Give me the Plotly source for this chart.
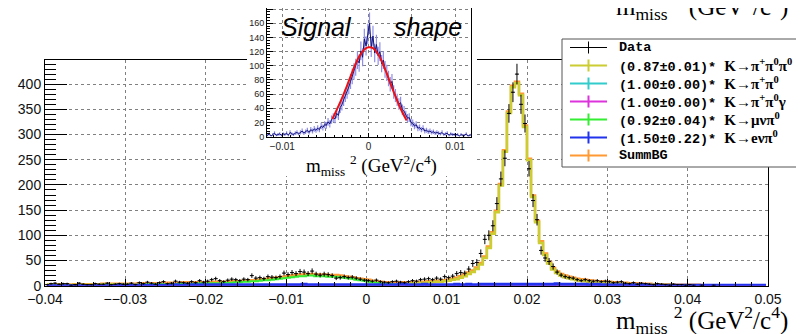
import math
import plotly.graph_objects as go

W, H = 804, 334          # window size
OFF = 8                  # page body margin in the browser
FW, FH = W - OFF, H - OFF

# ---------------- main histogram (bins of 0.0005 from -0.04 to 0.05) ----------------
X_MIN, BIN_W, N_BINS = -0.04, 0.0005, 180
BIN_CENTERS = [X_MIN + BIN_W * (i + 0.5) for i in range(N_BINS)]

SUMM_BG = [
    3, 3, 3, 3, 3, 3, 2, 3, 3, 3,
    3, 3, 3, 3, 4, 4, 4, 4, 4, 4,
    4, 4, 4, 5, 5, 5, 5, 5, 5, 6,
    6, 6, 6, 6, 7, 7, 7, 7, 7, 7,
    7, 7, 8, 8, 8, 8, 9, 9, 9, 10,
    10, 11, 11, 12, 13, 14, 15, 16, 17, 18,
    19, 20, 21, 22, 22, 23, 23, 22, 22, 22,
    21, 21, 21, 20, 19, 18, 17, 15, 14, 13,
    12, 10, 9, 8, 7, 7, 7, 7, 7, 7,
    7, 7, 8, 8, 8, 9, 9, 10, 10, 11,
    12, 14, 16, 19, 22, 26, 30, 36, 45, 58,
    78, 106, 149, 202, 269, 346, 397, 405, 381, 318,
    252, 179, 129, 88, 64, 47, 35, 28, 23, 20,
    18, 16, 14, 13, 12, 11, 10, 9, 9, 8,
    8, 7, 7, 6, 6, 5, 5, 5, 4, 4,
    4, 3, 3, 3, 3, 3, 2, 2, 2, 2,
    2, 2, 2, 1, 1, 1, 1, 1, 1, 1,
    1, 1, 1, 1, 1, 1, 1, 1, 1, 1,
]

K_PIPI0PI0 = [
    3, 3, 2, 2, 2, 2, 1, 2, 2, 2,
    2, 2, 2, 2, 3, 2, 2, 2, 2, 2,
    2, 1, 1, 2, 2, 2, 2, 2, 2, 2,
    2, 2, 1, 1, 2, 2, 2, 2, 1, 1,
    0, 0, 1, 1, 0, 0, 1, 0, 0, 0,
    0, 0, 0, 0, 0, 1, 1, 1, 1, 1,
    1, 1, 1, 1, 0, 1, 1, 1, 1, 1,
    1, 1, 1, 1, 1, 1, 1, 1, 1, 1,
    2, 1, 1, 1, 1, 1, 2, 3, 2, 3,
    4, 5, 6, 6, 5, 7, 7, 8, 8, 9,
    10, 12, 13, 16, 19, 23, 27, 33, 42, 55,
    75, 103, 146, 199, 266, 343, 394, 402, 378, 315,
    249, 176, 126, 85, 61, 44, 32, 25, 20, 17,
    15, 13, 11, 10, 9, 8, 7, 7, 7, 6,
    6, 5, 5, 4, 4, 3, 3, 3, 2, 2,
    2, 2, 2, 2, 2, 2, 1, 1, 1, 1,
    1, 1, 1, 1, 0, 0, 0, 0, 0, 0,
    0, 0, 0, 0, 0, 0, 0, 0, 0, 0,
]

K_MUNUPI0 = [
    0, 0, 1, 1, 1, 1, 1, 1, 1, 1,
    1, 1, 1, 1, 1, 2, 2, 2, 2, 2,
    2, 2, 2, 2, 2, 3, 3, 3, 3, 3,
    3, 3, 3, 4, 4, 4, 4, 4, 5, 5,
    5, 5, 5, 5, 6, 6, 6, 7, 7, 8,
    8, 9, 9, 10, 11, 11, 12, 13, 14, 15,
    16, 17, 18, 19, 19, 20, 20, 19, 19, 19,
    18, 18, 18, 17, 16, 15, 14, 12, 11, 10,
    8, 7, 6, 5, 4, 4, 3, 2, 2, 1,
    1, 0, 0, 0, 0, 0, 0, 0, 0, 0,
] + [0] * 80

K_ENUPI0 = [
    0, 0, 0, 0, 0, 0, 0, 0, 0, 0,
    0, 0, 0, 0, 0, 0, 0, 0, 1, 0,
    0, 1, 1, 1, 1, 1, 1, 1, 1, 1,
    1, 1, 2, 1, 1, 2, 2, 2, 2, 2,
    2, 2, 2, 2, 2, 2, 2, 2, 2, 2,
    2, 2, 2, 2, 2, 2, 2, 2, 2, 2,
    2, 2, 2, 2, 3, 2, 2, 2, 2, 2,
    2, 2, 2, 2, 2, 2, 2, 2, 2, 2,
    2, 2, 2, 2, 2, 2, 2, 2, 3, 3,
    2, 2, 2, 2, 3, 2, 2, 2, 2, 2,
    2, 2, 3, 2, 2, 3, 2, 2, 3, 3,
    3, 3, 3, 3, 3, 3, 3, 3, 3, 3,
    3, 3, 3, 3, 3, 3, 3, 4, 3, 3,
    3, 3, 3, 3, 3, 2, 3, 3, 2, 2,
    2, 2, 2, 2, 2, 2, 2, 1, 2, 2,
] + [1] * 30

K_PIPI0 = [0] * 95 + [1, 0, 1, 1, 0, 1, 0, 1, 0, 0] + [0] * 75
K_PIPI0G = [0] * 62 + [1, 0, 0, 1, 0, 0, 1, 0, 0, 0, 1, 0] + [0] * 106

DATA = [
    2, 4, 5, 3, 4, 4, 1, 2, 5, 3,
    2, 2, 4, 3, 3, 5, 2, 3, 4, 3,
    3, 5, 2, 6, 4, 7, 5, 3, 6, 8,
    4, 5, 9, 7, 6, 5, 8, 6, 10, 7,
    9, 12, 14, 10, 8, 11, 13, 12, 10, 13,
    12, 20, 15, 16, 14, 18, 17, 16, 18, 25,
    22, 26, 24, 28, 27, 24, 29, 23, 21, 23,
    22, 20, 15, 16, 18, 16, 17, 15, 13, 11,
    10, 9, 11, 8, 7, 6, 8, 9, 7, 6,
    8, 10, 9, 12, 13, 14, 12, 15, 13, 18,
    16, 19, 24, 26, 25, 33, 44, 46, 64, 92,
    100, 119, 163, 212, 253, 342, 384, 420, 360, 322,
    232, 169, 131, 70, 55, 48, 38, 27, 21, 18,
    16, 15, 12, 10, 12, 10, 9, 10, 8, 9,
    8, 6, 7, 8, 5, 4, 6, 3, 5, 4,
    3, 2, 4, 3, 2, 1, 3, 2, 2, 1,
    2, 1, 0, 1, 0, 0, 1, 0, 0, 0,
    0, 0, 0, 0, 0, 0, 0, 0, 0, 0,
]

X_TICKS = [-0.04, -0.03, -0.02, -0.01, 0, 0.01, 0.02, 0.03, 0.04, 0.05]
X_TICK_LABELS = ["\u22120.04", "\u2212\u22120.03", "\u22120.02", "\u22120.01", "0",
                 "0.01", "0.02", "0.03", "0.04", "0.05"]

# ---------------- inset: signal shape (bins of 0.0002 from -0.012 to 0.012) ----------------
IN_MIN, IN_BIN, IN_N = -0.012, 0.0002, 120
INSET_CENTERS = [IN_MIN + IN_BIN * (i + 0.5) for i in range(IN_N)]
INSET_VALUES = [
    3, 2, 4, 1, 3, 5, 2, 3, 4, 2,
    4, 3, 5, 2, 6, 4, 3, 5, 6, 4,
    6, 8, 5, 7, 9, 6, 10, 8, 11, 9,
    12, 10, 15, 13, 17, 16, 21, 18, 24, 27,
    25, 33, 30, 41, 45, 52, 58, 63, 70, 78,
    85, 92, 98, 108, 104, 121, 112, 138, 128, 145,
    160, 126, 142, 118, 130, 114, 120, 103, 108, 95,
    90, 82, 74, 78, 63, 58, 52, 46, 48, 38,
    36, 30, 26, 27, 20, 19, 15, 17, 12, 13,
    10, 12, 8, 9, 7, 8, 6, 7, 5, 6,
    5, 4, 6, 3, 4, 5, 2, 4, 3, 3,
    2, 3, 1, 3, 2, 2, 4, 1, 2, 3,
]
FIT_X = [-0.0042, -0.004, -0.0035, -0.003, -0.0025, -0.002, -0.0015, -0.001, -0.0005, 0.0,
         0.0005, 0.001, 0.0015, 0.002, 0.0025, 0.003, 0.0035, 0.004, 0.0044]
FIT_Y = [25, 30, 43, 57, 72, 88, 103, 115, 123, 126,
         125, 118, 107, 92, 76, 60, 45, 32, 23]

INSET_X_TICKS = [-0.01, -0.005, 0, 0.005, 0.01]
INSET_X_LABELS = ["\u22120.01", "", "0", "", "0.01"]

# ---------------- legend ----------------
LEGEND_FACTORS = ["", "(0.87\u00b10.01)* ", "(1.00\u00b10.00)* ", "(1.00\u00b10.00)* ",
                  "(0.92\u00b10.04)* ", "(1.50\u00b10.22)* ", ""]
LEGEND_NAMES = [
    "Data",
    "K\u2192\u03c0<sup>+</sup>\u03c0<sup>0</sup>\u03c0<sup>0</sup>",
    "K\u2192\u03c0<sup>+</sup>\u03c0<sup>0</sup>",
    "K\u2192\u03c0<sup>+</sup>\u03c0<sup>0</sup>\u03b3",
    "K\u2192\u03bc\u03bd\u03c0<sup>0</sup>",
    "K\u2192e\u03bd\u03c0<sup>0</sup>",
    "SummBG",
]
C_DATA, C_YEL, C_CYAN, C_MAG, C_GRN, C_BLUE, C_ORG = (
    "#000000", "#cccc33", "#33cccc", "#dd33dd", "#33ee33", "#2233ee", "#ff9933")
LEGEND_COLORS = [C_DATA, C_YEL, C_CYAN, C_MAG, C_GRN, C_BLUE, C_ORG]

TITLE = "m<sub>miss</sub> <sup>2</sup> (GeV<sup>2</sup>/c<sup>4</sup>)"


def px(x):
    return (x - OFF) / FW


def py(y):
    return 1 - (y - OFF) / FH


fig = go.Figure()

# main plot components
for vals, color, width in [
    (SUMM_BG, C_ORG, 2.5),
    (K_PIPI0PI0, C_YEL, 2.5),
    (K_MUNUPI0, C_GRN, 2),
    (K_PIPI0, C_CYAN, 2),
    (K_PIPI0G, C_MAG, 2),
    (K_ENUPI0, C_BLUE, 3),
]:
    fig.add_trace(go.Scatter(
        x=BIN_CENTERS, y=vals, mode="lines",
        line=dict(color=color, width=width, shape="hvh"),
        xaxis="x", yaxis="y", hoverinfo="skip", showlegend=False))

fig.add_trace(go.Scatter(
    x=BIN_CENTERS, y=[v if v > 0 else None for v in DATA], mode="markers",
    marker=dict(size=1, color="black"),
    error_y=dict(type="data", array=[math.sqrt(v) for v in DATA],
                 color="black", thickness=1, width=0),
    error_x=dict(type="constant", value=BIN_W / 2, color="black", thickness=1, width=0),
    xaxis="x", yaxis="y", hoverinfo="skip", showlegend=False))

# white pad behind the inset (own subplot -> covers main plot)
fig.add_trace(go.Scatter(x=[0.5], y=[0.5], mode="markers", marker=dict(opacity=0),
                         xaxis="x2", yaxis="y2", hoverinfo="skip", showlegend=False))

# inset
fig.add_trace(go.Scatter(
    x=INSET_CENTERS, y=INSET_VALUES, mode="markers",
    marker=dict(size=1, color="rgba(0,0,0,0)"),
    error_y=dict(type="data", array=[math.sqrt(v) * 1.2 for v in INSET_VALUES],
                 color="#8f8fe8", thickness=1.2, width=0),
    xaxis="x3", yaxis="y3", hoverinfo="skip", showlegend=False))
fig.add_trace(go.Scatter(
    x=INSET_CENTERS, y=INSET_VALUES, mode="lines",
    line=dict(color="#12127a", width=1),
    xaxis="x3", yaxis="y3", hoverinfo="skip", showlegend=False))
fig.add_trace(go.Scatter(
    x=FIT_X, y=FIT_Y, mode="lines",
    line=dict(color="#ee1111", width=2, shape="spline"),
    xaxis="x3", yaxis="y3", hoverinfo="skip", showlegend=False))

axis_common = dict(showline=True, linecolor="black", linewidth=1, mirror=True,
                   zeroline=False, ticks="inside", tickcolor="black", automargin=False,
                   showgrid=True, gridcolor="#808080", griddash="dot", gridwidth=1)

fig.update_layout(
    width=FW, height=FH, autosize=False,
    margin=dict(l=0, r=0, t=0, b=0, pad=0, autoexpand=False),
    paper_bgcolor="white", plot_bgcolor="white",
    showlegend=False,
    font=dict(family="Liberation Sans", color="black"),
    xaxis=dict(domain=[px(45), px(768)], range=[-0.04, 0.05],
               tickvals=X_TICKS, ticktext=X_TICK_LABELS, ticklen=7,
               tickfont=dict(size=14, color="#111"),
               minor=dict(ticks="inside", ticklen=3.5, dtick=0.002, tick0=-0.04,
                          tickcolor="black", showgrid=False),
               anchor="y", **axis_common),
    yaxis=dict(domain=[py(285.7), py(60)], range=[0, 448],
               tick0=0, dtick=50, ticklen=22,
               tickfont=dict(size=14, color="#111"),
               minor=dict(ticks="inside", ticklen=11, dtick=10, tick0=0,
                          tickcolor="black", showgrid=False),
               anchor="x", **axis_common),
    xaxis2=dict(domain=[px(247), px(477)], range=[0, 1], visible=False,
                automargin=False, anchor="y2"),
    yaxis2=dict(domain=[py(176), 1.0], range=[0, 1], visible=False,
                automargin=False, anchor="x2"),
    xaxis3=dict(domain=[px(267), px(471)], range=[-0.01177, 0.01185],
                tickvals=INSET_X_TICKS, ticktext=INSET_X_LABELS, ticklen=4,
                tickfont=dict(size=10, color="#222"),
                minor=dict(ticks="inside", ticklen=2, dtick=0.001, tick0=0,
                           tickcolor="black", showgrid=False),
                anchor="y3", **axis_common),
    yaxis3=dict(domain=[py(136.7), py(6.7) if py(6.7) <= 1 else 1.0], range=[0, 181.5],
                tick0=0, dtick=20, ticklen=6,
                tickfont=dict(size=9, color="#222"),
                minor=dict(ticks="inside", ticklen=3, dtick=4, tick0=0,
                           tickcolor="black", showgrid=False),
                anchor="x3", **axis_common),
)

annotations = [
    dict(text=TITLE, x=px(790), y=py(320), xanchor="right", yanchor="middle",
         font=dict(family="Liberation Serif", size=25, color="black")),
    dict(text=TITLE, x=px(790), y=py(6), xanchor="right", yanchor="middle",
         font=dict(family="Liberation Serif", size=25, color="black")),
    dict(text=TITLE, x=px(371), y=py(165), xanchor="center", yanchor="middle",
         font=dict(family="Liberation Serif", size=19, color="black")),
    dict(text="<i>Signal</i>", x=px(279), y=py(27), xanchor="left", yanchor="middle",
         font=dict(family="Liberation Sans", size=25, color="black")),
    dict(text="<i>shape</i>", x=px(392), y=py(27), xanchor="left", yanchor="middle",
         font=dict(family="Liberation Sans", size=25, color="black")),
]

shapes = [dict(type="rect", xref="paper", yref="paper", layer="above",
               x0=px(562), x1=px(801), y0=py(167), y1=py(39),
               fillcolor="white", line=dict(color="#555", width=1))]

LEG_ROWS_Y = [47.5, 65.5, 83.5, 101.5, 119.5, 137.5, 155.5]
for factor, name, color, yrow in zip(LEGEND_FACTORS, LEGEND_NAMES, LEGEND_COLORS, LEG_ROWS_Y):
    lw = 1 if color == C_DATA else 2
    shapes.append(dict(type="line", xref="paper", yref="paper", layer="above",
                       x0=px(570), x1=px(607), y0=py(yrow), y1=py(yrow),
                       line=dict(color=color, width=lw)))
    shapes.append(dict(type="line", xref="paper", yref="paper", layer="above",
                       x0=px(588.5), x1=px(588.5), y0=py(yrow - 6), y1=py(yrow + 6),
                       line=dict(color=color, width=lw)))
    if factor:
        text = ("<b>" + factor + "</b><span style=\"font-family:'Liberation Serif';"
                "font-size:15px;font-weight:bold\">" + name + "</span>")
    else:
        text = "<b>" + name + "</b>"
    annotations.append(dict(text=text, x=px(617), y=py(yrow),
                            xanchor="left", yanchor="middle",
                            font=dict(family="Liberation Mono", size=13.5, color="black")))

for a in annotations:
    a.setdefault("xref", "paper")
    a.setdefault("yref", "paper")
    a["showarrow"] = False

fig.update_layout(annotations=annotations, shapes=shapes)

fig.write_html("out.html")
